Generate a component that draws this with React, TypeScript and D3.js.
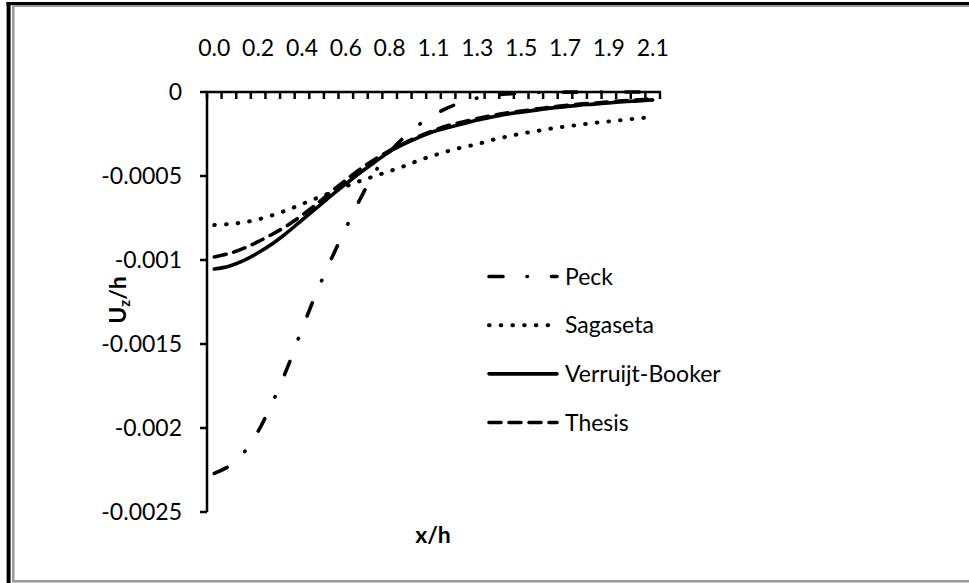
import React, { useEffect, useRef } from "react";
import * as d3 from "d3";

// x/h categories (Excel category axis, every 3rd one labelled)
const xh = [
  0, 0.07, 0.14, 0.21, 0.28, 0.35, 0.42, 0.49, 0.56, 0.63, 0.7, 0.77, 0.84, 0.91, 0.98, 1.05,
  1.12, 1.19, 1.26, 1.33, 1.4, 1.47, 1.54, 1.61, 1.68, 1.75, 1.82, 1.89, 1.96, 2.03, 2.1,
];
const xTickLabels = ["0.0", "0.2", "0.4", "0.6", "0.8", "1.1", "1.3", "1.5", "1.7", "1.9", "2.1"];

const peck = [
  -0.00227, -0.002228, -0.002149, -0.002019, -0.001844, -0.001641, -0.001411, -0.001193,
  -0.000995, -0.00081, -0.000634, -0.000475, -0.000358, -0.000268, -0.000195, -0.000138,
  -0.000093, -0.000059, -0.000036, -0.000021, -0.000012, -0.000006, -0.000003, -0.0000015,
  -0.000001, -0.0000006, -0.0000004, -0.0000002, -0.0000001, -0.0000001, 0,
];
const sagaseta = [
  -0.000792, -0.000786, -0.000776, -0.000758, -0.000733, -0.000702, -0.000667, -0.000632,
  -0.000597, -0.000562, -0.000529, -0.0005, -0.000471, -0.000441, -0.000407, -0.000378,
  -0.000352, -0.000329, -0.00031, -0.000286, -0.000266, -0.000248, -0.000233, -0.000218,
  -0.000206, -0.000195, -0.000184, -0.000175, -0.000166, -0.000157, -0.000149,
];
const verruijtBooker = [
  -0.001054, -0.001037, -0.001004, -0.000957, -0.000902, -0.000836, -0.000762, -0.00069,
  -0.000617, -0.000547, -0.000479, -0.000416, -0.000355, -0.000309, -0.00027, -0.000236,
  -0.000212, -0.000189, -0.000167, -0.000149, -0.000132, -0.00012, -0.000108, -0.000096,
  -0.000087, -0.000078, -0.000072, -0.000065, -0.000058, -0.000053, -0.000047,
];
const thesis = [
  -0.000982, -0.000962, -0.000931, -0.000891, -0.000845, -0.000794, -0.000734, -0.000667,
  -0.000593, -0.000524, -0.000457, -0.0004, -0.000349, -0.000304, -0.000264, -0.000229,
  -0.0002, -0.000178, -0.000158, -0.00014, -0.000125, -0.000114, -0.000102, -0.00009,
  -0.000081, -0.000072, -0.000066, -0.000059, -0.000052, -0.000047, -0.000041,
];

const yTicks = [0, -0.0005, -0.001, -0.0015, -0.002, -0.0025];
const yTickLabels = ["0", "-0.0005", "-0.001", "-0.0015", "-0.002", "-0.0025"];

const seriesNames = ["Peck", "Sagaseta", "Verruijt-Booker", "Thesis"];
const seriesValues = [peck, sagaseta, verruijtBooker, thesis];
const seriesDash = ["14 24 0.5 24", "0.6 11.1", null, "12 8"];
const seriesWidth = [3.6, 4, 3.6, 3.6];

const App = () => {
  const ref = useRef<SVGSVGElement>(null);

  useEffect(() => {
    document.body.style.margin = "0";
    if (!ref.current) return;
    const svg = d3.select(ref.current);
    svg.selectAll("*").remove();

    const width = 969;
    const height = 583;
    const font = "Lato, Carlito, Calibri, sans-serif";
    const fs = 23;

    // frame (shadowed border, right side cut off)
    svg.append("rect").attr("width", width).attr("height", height).attr("fill", "#fff");
    svg.append("line").attr("x1", 12).attr("x2", width).attr("y1", 6).attr("y2", 6)
      .attr("stroke", "#9a9a9a").attr("stroke-width", 2);
    svg.append("line").attr("x1", 13.3).attr("x2", 13.3).attr("y1", 6).attr("y2", 581.3)
      .attr("stroke", "#9a9a9a").attr("stroke-width", 2.5);
    svg.append("line").attr("x1", 12).attr("x2", width).attr("y1", 581.3).attr("y2", 581.3)
      .attr("stroke", "#9a9a9a").attr("stroke-width", 2.5);
    svg.append("line").attr("x1", 6.5).attr("x2", width).attr("y1", 3.5).attr("y2", 3.5)
      .attr("stroke", "#000").attr("stroke-width", 3);
    svg.append("line").attr("x1", 8.6).attr("x2", 8.6).attr("y1", 2).attr("y2", height)
      .attr("stroke", "#000").attr("stroke-width", 4);

    // categories sit between tick marks
    const x = d3.scaleBand<number>().domain(d3.range(xh.length)).range([207, 660]);
    const cx = (i: number) => (x(i) as number) + x.bandwidth() / 2;
    const y = d3.scaleLinear().domain([0, -0.0025]).range([92, 512]);

    // y axis
    const gy = svg.append("g");
    gy.append("line").attr("x1", 207).attr("x2", 207).attr("y1", y(0)).attr("y2", y(-0.0025))
      .attr("stroke", "#000").attr("stroke-width", 2.5);
    yTicks.forEach((t, i) => {
      gy.append("line").attr("x1", 200).attr("x2", 207).attr("y1", y(t)).attr("y2", y(t))
        .attr("stroke", "#000").attr("stroke-width", 2.5);
      gy.append("text").attr("x", 182).attr("y", y(t)).attr("dy", "0.35em")
        .attr("text-anchor", "end").attr("font-family", font).attr("font-size", fs)
        .attr("fill", "#000").text(yTickLabels[i]);
    });

    // x axis along y = 0, labels above
    const gx = svg.append("g");
    gx.append("line").attr("x1", 206).attr("x2", 661).attr("y1", y(0)).attr("y2", y(0))
      .attr("stroke", "#000").attr("stroke-width", 2.5);
    const tickXs = [...xh.map((_, i) => x(i) as number), x.range()[1]];
    tickXs.forEach((tx) => {
      gx.append("line").attr("x1", tx).attr("x2", tx).attr("y1", y(0)).attr("y2", y(0) + 7)
        .attr("stroke", "#000").attr("stroke-width", 2.5);
    });
    xTickLabels.forEach((lab, k) => {
      gx.append("text").attr("x", cx(k * 3)).attr("y", 56)
        .attr("text-anchor", "middle").attr("font-family", font).attr("font-size", fs)
        .attr("fill", "#000").text(lab);
    });

    // axis titles
    svg.append("text").attr("x", 433).attr("y", 543).attr("text-anchor", "middle")
      .attr("font-family", font).attr("font-size", fs).attr("font-weight", "bold").text("x/h");
    const yt = svg.append("text").attr("transform", "translate(126,300) rotate(-90)")
      .attr("text-anchor", "middle").attr("font-family", font).attr("font-size", fs)
      .attr("font-weight", "bold");
    yt.append("tspan").text("U");
    yt.append("tspan").attr("font-size", 15).attr("dy", 4).text("z");
    yt.append("tspan").attr("dy", -4).text("/h");

    // series
    const line = d3.line<number>()
      .x((_, i) => cx(i))
      .y((d) => y(d))
      .curve(d3.curveCatmullRom.alpha(0.5));

    seriesValues.forEach((vals, s) => {
      svg.append("path").attr("d", line(vals)).attr("fill", "none").attr("stroke", "#000")
        .attr("stroke-width", seriesWidth[s]).attr("stroke-linecap", "round")
        .attr("stroke-linejoin", "round").attr("stroke-dasharray", seriesDash[s]);
    });

    // legend
    const legendY = d3.scalePoint<string>().domain(seriesNames).range([276.5, 422.5]);
    seriesNames.forEach((name, s) => {
      const ly = legendY(name) as number;
      svg.append("line").attr("x1", 489).attr("x2", 557).attr("y1", ly).attr("y2", ly)
        .attr("stroke", "#000").attr("stroke-width", seriesWidth[s]).attr("stroke-linecap", "round")
        .attr("stroke-dasharray", seriesDash[s]);
      svg.append("text").attr("x", 565).attr("y", ly).attr("dy", "0.35em")
        .attr("font-family", font).attr("font-size", fs).attr("fill", "#000").text(name);
    });
  }, []);

  return <svg ref={ref} width={969} height={583} style={{ display: "block" }} />;
};

export default App;
